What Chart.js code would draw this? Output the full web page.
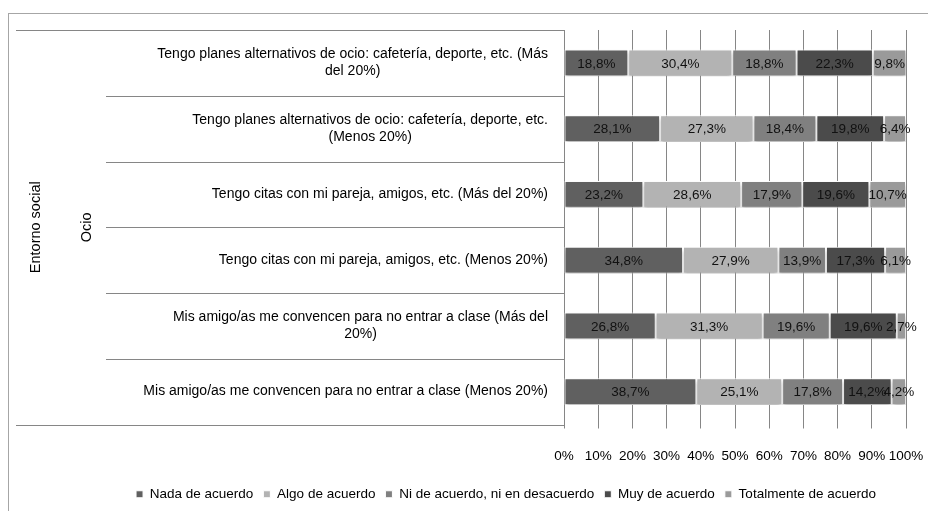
<!DOCTYPE html>
<html>
<head>
<meta charset="utf-8">
<script src="https://cdn.jsdelivr.net/npm/chart.js@4.4.1/dist/chart.umd.min.js"></script>
<style>
  html, body { margin: 0; padding: 0; background: #fff; overflow: hidden; }
  #frame { position: absolute; left: 8px; top: 13px; width: 1100px; height: 600px;
           border-left: 1px solid #a6a6a6; border-top: 1px solid #a6a6a6; }
  #myChart { position: absolute; left: 0; top: 0; }
</style>
</head>
<body>
<div id="frame"></div>
<canvas id="myChart" width="1012" height="511"></canvas>
<script>
const ctx = document.querySelector('#myChart');

// category labels, top to bottom (already split into lines like the original)
const CATEGORIES = [
  ['Tengo planes alternativos de ocio: cafetería, deporte, etc. (Más', 'del 20%)'],
  ['Tengo planes alternativos de ocio: cafetería, deporte, etc.', '(Menos 20%)'],
  ['Tengo citas con mi pareja, amigos, etc. (Más del 20%)'],
  ['Tengo citas con mi pareja, amigos, etc. (Menos 20%)'],
  ['Mis amigo/as me convencen para no entrar a clase (Más del', '20%)'],
  ['Mis amigo/as me convencen para no entrar a clase (Menos 20%)']
];

const SERIES_NAMES = [
  'Nada de acuerdo',
  'Algo de acuerdo',
  'Ni de acuerdo, ni en desacuerdo',
  'Muy de acuerdo',
  'Totalmente de acuerdo'
];

const NADA       = [18.8, 28.1, 23.2, 34.8, 26.8, 38.7];
const ALGO       = [30.4, 27.3, 28.6, 27.9, 31.3, 25.1];
const NI         = [18.8, 18.4, 17.9, 13.9, 19.6, 17.8];
const MUY        = [22.3, 19.8, 19.6, 17.3, 19.6, 14.2];
const TOTALMENTE = [9.8, 6.4, 10.7, 6.1, 2.7, 4.2];

const X_TICKS = [0, 10, 20, 30, 40, 50, 60, 70, 80, 90, 100];

const GROUP_LABEL = 'Entorno social';
const SUBGROUP_LABEL = 'Ocio';

const COLORS = ['#606060', '#b3b3b3', '#808080', '#4b4b4b', '#9a9a9a'];
const FONT = '"Liberation Sans", Arial, sans-serif';
const LINE_COLOR = '#868686';

const values = [NADA, ALGO, NI, MUY, TOTALMENTE];

// bars get a soft shadow, then the % labels go on top
const barLabels = {
  id: 'barLabels',
  beforeDatasetsDraw(chart) {
    const c = chart.ctx;
    c.save();
    c.shadowColor = 'rgba(0,0,0,0.28)';
    c.shadowOffsetY = 3;
    c.shadowBlur = 4;
  },
  afterDatasetsDraw(chart) {
    const c = chart.ctx;
    c.restore();
    c.save();
    c.font = '13.5px ' + FONT;
    c.fillStyle = '#111';
    c.textAlign = 'center';
    c.textBaseline = 'middle';
    chart.data.datasets.forEach((ds, di) => {
      chart.getDatasetMeta(di).data.forEach((bar, i) => {
        const txt = ds.data[i].toFixed(1).replace('.', ',') + '%';
        c.fillText(txt, (bar.x + bar.base) / 2, bar.y + 1);
      });
    });
    c.restore();
  }
};

// left side: category text, separator lines and the rotated group names
const sideLabels = {
  id: 'sideLabels',
  afterDraw(chart) {
    const c = chart.ctx;
    const y = chart.scales.y;
    const area = chart.chartArea;
    c.save();
    c.strokeStyle = LINE_COLOR;
    c.lineWidth = 1;
    for (let i = 0; i <= CATEGORIES.length; i++) {
      const py = Math.round(y.getPixelForValue(i - 0.5)) + 0.5;
      const x0 = (i === 0 || i === CATEGORIES.length) ? 16 : 106;
      c.beginPath();
      c.moveTo(x0, py);
      c.lineTo(area.left, py);
      c.stroke();
    }

    c.fillStyle = '#000';
    c.font = '14px ' + FONT;
    c.textBaseline = 'middle';
    c.textAlign = 'center';
    const lh = 17;
    CATEGORIES.forEach((lines, i) => {
      const cy = y.getPixelForValue(i);
      const maxW = Math.max(...lines.map(l => c.measureText(l).width));
      const cx = area.left - 16 - maxW / 2;
      lines.forEach((l, j) => {
        c.fillText(l, cx, cy + (j - (lines.length - 1) / 2) * lh);
      });
    });

    const midY = (area.top + area.bottom) / 2;
    c.font = '14.5px ' + FONT;
    c.save();
    c.translate(36, midY);
    c.rotate(-Math.PI / 2);
    c.fillText(GROUP_LABEL, 0, 0);
    c.restore();
    c.save();
    c.translate(87, midY);
    c.rotate(-Math.PI / 2);
    c.fillText(SUBGROUP_LABEL, 0, 0);
    c.restore();
    c.restore();
  }
};

const data = {
  labels: CATEGORIES.map(l => l.join(' ')),
  datasets: SERIES_NAMES.map((name, k) => ({
    label: name,
    data: values[k],
    backgroundColor: COLORS[k],
    borderColor: '#ffffff',
    borderWidth: 1,
    borderSkipped: false,
    barPercentage: 0.41,
    categoryPercentage: 1
  }))
};

const chart_bar = new Chart(ctx, {
  type: 'bar',
  data: data,
  plugins: [barLabels, sideLabels],
  options: {
    indexAxis: 'y',
    responsive: false,
    animation: false,
    layout: { padding: { left: 0, right: 0, top: 30, bottom: 0 } },
    plugins: {
      tooltip: { enabled: false },
      legend: {
        position: 'bottom',
        labels: {
          boxWidth: 7,
          boxHeight: 7,
          padding: 10,
          color: '#000',
          font: { family: FONT, size: 13.5 }
        }
      }
    },
    scales: {
      x: {
        stacked: true,
        min: 0,
        max: 100,
        afterBuildTicks: s => { s.ticks = X_TICKS.map(v => ({ value: v })); },
        afterFit: s => { s.height = 53; },
        ticks: {
          callback: v => v + '%',
          color: '#000',
          padding: 20,
          maxRotation: 0,
          autoSkip: false,
          font: { family: FONT, size: 13.5 }
        },
        grid: { color: LINE_COLOR, tickLength: 4 },
        border: { display: false }
      },
      y: {
        stacked: true,
        grid: { display: false },
        border: { display: false },
        ticks: { display: false },
        afterFit: s => { s.width = 564; }
      },
      // empty right-hand axis: keeps the plot narrow while the legend stays centred on the whole chart
      yRight: {
        type: 'category',
        position: 'right',
        labels: [''],
        grid: { display: false },
        border: { display: false },
        ticks: { display: false },
        afterFit: s => { s.width = 106; }
      }
    }
  }
});
</script>
</body>
</html>
